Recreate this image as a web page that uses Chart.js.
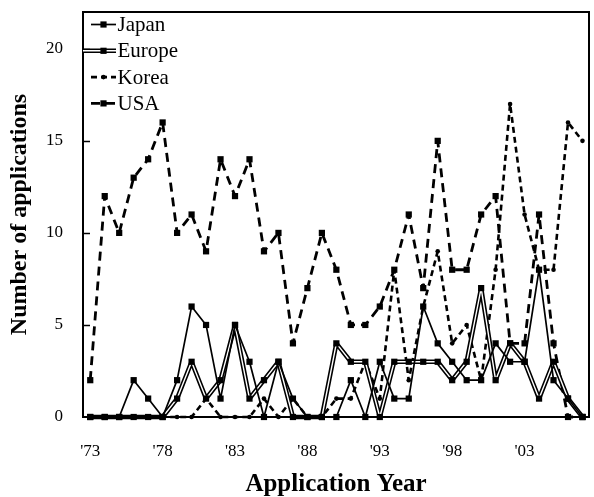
<!DOCTYPE html>
<html><head><meta charset="utf-8">
<script src="https://cdn.jsdelivr.net/npm/chart.js@4.4.1/dist/chart.umd.min.js"></script>
<style>html,body{margin:0;padding:0;background:#fff;}canvas{display:block;}</style>
</head><body>
<canvas id="c" width="594" height="497"></canvas>
<script>
const years = [1973,1974,1975,1976,1977,1978,1979,1980,1981,1982,1983,1984,1985,1986,1987,1988,1989,1990,1991,1992,1993,1994,1995,1996,1997,1998,1999,2000,2001,2002,2003,2004,2005,2006,2007];
const japan  = [0,0,0,2,1,0,2,6,5,1, 5,3,0,3,1,0,0,0,2,0, 3,1,1,6,4,3,2,2,4,3, 3,8,2,1,0];
const europe = [0,0,0,0,0,0,1,3,1,2, 5,1,2,3,0,0,0,4,3,3, 0,3,3,3,3,2,3,7,2,4, 3,1,3,1,0];
const korea  = [0,0,0,0,0,0,0,0,1,0, 0,0,1,0,1,0,0,1,1,3, 1,8,2,6,9,4,5,2,8,17, 11,8,8,16,15];
const usa    = [2,12,10,13,14,16,10,11,9,14, 12,14,9,10,4,7,10,8,5,5, 6,8,11,7,15,8,8,11,12,4, 4,11,4,0,0];
const xTickYears = [1973,1978,1983,1988,1993,1998,2003];
const yTickValues = [0,5,10,15,20];
const seriesNames = ['Japan','Europe','Korea','USA'];
const xTitle = 'Application Year';
const yTitle = 'Number of applications';

const pts = arr => years.map((y,i)=>({x:y,y:arr[i]}));
const SERIF = "'Liberation Serif','Times New Roman',serif";

const datasets = [
  {label:'EuropePts', data:pts(europe), showLine:false, pointStyle:'rect', pointRadius:4.4, backgroundColor:'#000', borderColor:'#000', borderWidth:0, clip:false},
  {label:seriesNames[0], data:pts(japan), borderColor:'#000', borderWidth:1.7, borderJoinStyle:'bevel', pointStyle:'rect', pointRadius:4.4, backgroundColor:'#000', pointBorderWidth:0, clip:false},
  {label:'EuropeInner', data:pts(europe), borderColor:'#fff', borderWidth:1.4, borderJoinStyle:'bevel', pointRadius:0, clip:false},
  {label:seriesNames[1], data:pts(europe), borderColor:'#000', borderWidth:4.6, borderJoinStyle:'bevel', pointRadius:0, clip:false},
  {label:seriesNames[2], data:pts(korea), borderColor:'#000', borderWidth:2.6, borderDash:[6,4], borderJoinStyle:'bevel', pointStyle:'circle', pointRadius:2.3, backgroundColor:'#000', pointBorderWidth:0, clip:false},
  {label:seriesNames[3], data:pts(usa), borderColor:'#000', borderWidth:2.8, borderDash:[9,6], borderJoinStyle:'bevel', pointStyle:'rect', pointRadius:4.4, backgroundColor:'#000', pointBorderWidth:0, clip:false}
];

const framePlugin = {
  id:'frame',
  afterDatasetsDraw(chart){
    const {ctx, chartArea:a, scales} = chart;
    ctx.save();
    ctx.strokeStyle='#000'; ctx.lineWidth=2;
    ctx.strokeRect(a.left, a.top, a.right-a.left, a.bottom-a.top);
    ctx.lineWidth=1.5;
    yTickValues.forEach(v=>{
      if(v===0) return;
      const y = Math.round(scales.y.getPixelForValue(v))+0.5;
      ctx.beginPath(); ctx.moveTo(a.left, y); ctx.lineTo(a.left+7, y); ctx.stroke();
    });
    // legend
    ctx.font = "21px " + SERIF;
    ctx.textBaseline='middle'; ctx.textAlign='left'; ctx.fillStyle='#000';
    seriesNames.forEach((name,i)=>{
      const y = a.top + 12.5 + i*26.3;
      const x0 = a.left + 8, x1 = a.left + 33, xm = a.left + 20.5;
      ctx.save();
      ctx.strokeStyle='#000';
      if(name==='Japan'){
        ctx.lineWidth=1.7; ctx.beginPath(); ctx.moveTo(x0,y); ctx.lineTo(x1,y); ctx.stroke();
        ctx.fillRect(xm-3.1,y-3.1,6.2,6.2);
      } else if(name==='Europe'){
        ctx.lineWidth=4.6; ctx.beginPath(); ctx.moveTo(a.left,y); ctx.lineTo(x1,y); ctx.stroke();
        ctx.strokeStyle='#fff'; ctx.lineWidth=1.4; ctx.beginPath(); ctx.moveTo(a.left,y); ctx.lineTo(x1,y); ctx.stroke();
        ctx.fillRect(xm-3.1,y-3.1,6.2,6.2);
      } else if(name==='Korea'){
        ctx.lineWidth=2.6; ctx.setLineDash([6,4]); ctx.beginPath(); ctx.moveTo(x0,y); ctx.lineTo(x1,y); ctx.stroke();
        ctx.beginPath(); ctx.arc(xm,y,2.3,0,Math.PI*2); ctx.fill();
      } else {
        ctx.lineWidth=2.8; ctx.setLineDash([9,6]); ctx.beginPath(); ctx.moveTo(x0,y); ctx.lineTo(x1,y); ctx.stroke();
        ctx.fillRect(xm-3.1,y-3.1,6.2,6.2);
      }
      ctx.restore();
      ctx.fillText(name, a.left + 34.5, y+1);
    });
    ctx.restore();
  }
};

new Chart(document.getElementById('c'), {
  type:'line',
  data:{datasets},
  options:{
    responsive:false, animation:false,
    layout:{padding:{top:12,right:5,left:0,bottom:0}, autoPadding:false},
    elements:{line:{tension:0}},
    plugins:{legend:{display:false}, tooltip:{enabled:false}},
    scales:{
      x:{type:'linear', min:1972.5, max:2007.45,
        afterBuildTicks:s=>{s.ticks = xTickYears.map(v=>({value:v}));},
        afterFit:s=>{s.height = 80; s.paddingLeft = 0; s.paddingRight = 0;},
        grid:{display:false, drawTicks:false},
        border:{display:false},
        ticks:{padding:24, maxRotation:0, autoSkip:false, color:'#000', font:{family:SERIF, size:17},
          callback:v=>"'"+String(v).slice(2)},
        title:{display:true, text:xTitle, color:'#000', font:{family:SERIF, size:25, weight:'bold', lineHeight:1}, padding:{top:0,bottom:0}}
      },
      y:{min:0, max:22,
        afterBuildTicks:s=>{s.ticks = yTickValues.map(v=>({value:v}));},
        afterFit:s=>{s.width = 83; s.paddingTop = 0; s.paddingBottom = 0;},
        grid:{display:false, drawTicks:false},
        border:{display:false},
        ticks:{padding:20, color:'#000', font:{family:SERIF, size:17}},
        title:{display:true, text:yTitle, color:'#000', font:{family:SERIF, size:24, weight:'bold', lineHeight:1}, padding:{top:8,bottom:0}}
      }
    }
  },
  plugins:[framePlugin]
});
</script>
</body></html>
